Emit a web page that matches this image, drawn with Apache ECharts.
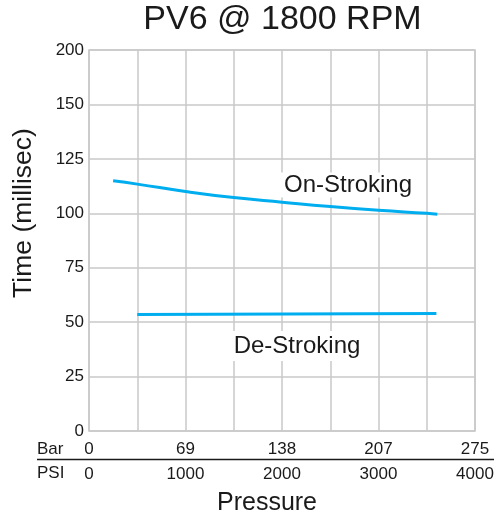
<!DOCTYPE html>
<html><head><meta charset="utf-8">
<script src="https://cdn.jsdelivr.net/npm/echarts@6/dist/echarts.min.js"></script>
<style>html,body{margin:0;padding:0;background:#fff}#c{width:502px;height:517px}</style>
</head><body><div id="c"></div>
<script>
const title = 'PV6 @ 1800 RPM';
const yTickLabels = ['0','25','50','75','100','125','150','200'];
const psiTicks = [0, 1000, 2000, 3000, 4000];
const barTicks = ['0', '69', '138', '207', '275'];
const onStrokingPsi = [250, 500, 1000, 1500, 2000, 2500, 3000, 3500, 3610];
const onStrokingMs  = [114.9, 113.4, 110.0, 107.2, 105.1, 103.1, 101.4, 100.0, 99.6];
const deStrokingPsi = [500, 3600];
const deStrokingMs  = [53.5, 54.0];

const FONT = '"Liberation Sans", Arial, Helvetica, sans-serif';
const lineColor = '#00AEEF';
const gridColor = '#c8c8c8';
const textColor = '#1a1a1a';
const chart = echarts.init(document.getElementById('c'));
const pair = (xs, ys) => xs.map((x, i) => [x, ys[i]]);

chart.setOption({
  animation: false,
  backgroundColor: '#fff',
  textStyle: { fontFamily: FONT },
  grid: { left: 89, right: 27, top: 50, bottom: 86, show: true, borderColor: gridColor, borderWidth: 1.5 },
  xAxis: [
    { type: 'value', min: 0, max: 4000, interval: 500, position: 'bottom',
      axisLine: { show: false }, axisTick: { show: false },
      splitLine: { show: true, lineStyle: { color: gridColor, width: 1.5 } },
      axisLabel: { margin: 35, fontSize: 17, color: textColor, fontFamily: FONT, showMaxLabel: true, showMinLabel: true,
        formatter: v => psiTicks.includes(v) ? String(v) : '' } },
    { type: 'value', min: 0, max: 4000, interval: 500, position: 'bottom',
      axisLine: { show: false }, axisTick: { show: false }, splitLine: { show: false },
      axisLabel: { margin: 10, fontSize: 17, color: textColor, fontFamily: FONT, showMaxLabel: true, showMinLabel: true,
        formatter: v => { const i = psiTicks.indexOf(v); return i >= 0 ? barTicks[i] : ''; } } }
  ],
  yAxis: {
    type: 'value', min: 0, max: 175, interval: 25,
    axisLine: { show: false }, axisTick: { show: false },
    splitLine: { show: true, lineStyle: { color: gridColor, width: 1.5 } },
    axisLabel: { margin: 5, fontSize: 17, color: textColor, fontFamily: FONT,
      formatter: (v) => yTickLabels[Math.round(v / 25)] }
  },
  graphic: [
    { type: 'text', x: 282.5, y: 20, style: { text: title, font: '34px ' + FONT, fill: textColor, align: 'center', verticalAlign: 'middle' } },
    { type: 'text', left: 37, top: 441, style: { text: 'Bar', font: '17px ' + FONT, fill: textColor } },
    { type: 'text', left: 37, top: 465, style: { text: 'PSI', font: '17px ' + FONT, fill: textColor } },
    { type: 'line', shape: { x1: 37, y1: 459.5, x2: 494, y2: 459.5 }, style: { stroke: textColor, lineWidth: 1.5 } },
    { type: 'text', x: 267, y: 503, style: { text: 'Pressure', font: '25px ' + FONT, fill: textColor, align: 'center', verticalAlign: 'middle' } },
    { type: 'text', x: 24, y: 213, rotation: Math.PI / 2, style: { text: 'Time (millisec)', font: '26.5px ' + FONT, fill: textColor, align: 'center', verticalAlign: 'middle' } },
    { type: 'text', x: 348, y: 185, z: 10, style: { text: 'On-Stroking', font: '24px ' + FONT, fill: textColor, align: 'center', verticalAlign: 'middle', backgroundColor: '#fff', padding: [1, 3, 0, 3] } },
    { type: 'text', x: 297, y: 346, z: 10, style: { text: 'De-Stroking', font: '24px ' + FONT, fill: textColor, align: 'center', verticalAlign: 'middle', backgroundColor: '#fff', padding: [3, 3, 3, 3] } }
  ],
  series: [
    { name: 'On-Stroking', type: 'line', smooth: true, showSymbol: false, data: pair(onStrokingPsi, onStrokingMs),
      lineStyle: { color: lineColor, width: 3 } },
    { name: 'De-Stroking', type: 'line', showSymbol: false, data: pair(deStrokingPsi, deStrokingMs),
      lineStyle: { color: lineColor, width: 3 } }
  ]
});
</script></body></html>
